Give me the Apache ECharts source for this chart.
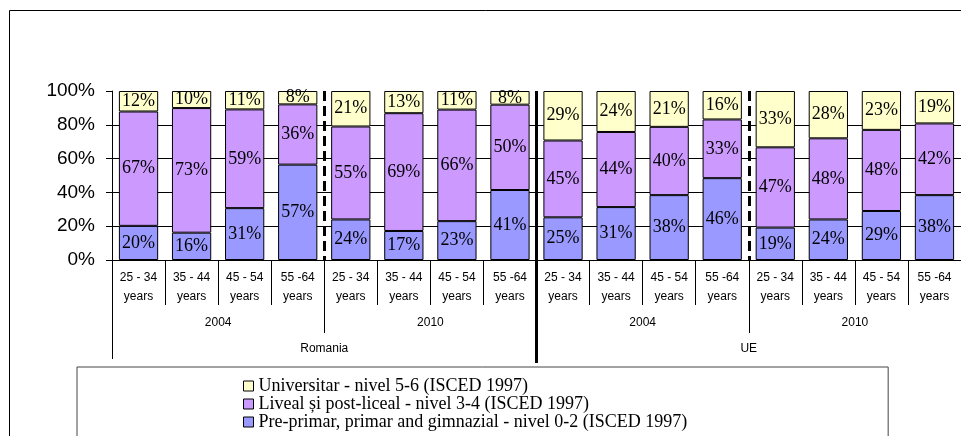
<!DOCTYPE html>
<html>
<head>
<meta charset="utf-8">
<script src="https://cdn.jsdelivr.net/npm/echarts@6/dist/echarts.min.js"></script>
<style>
html,body{margin:0;padding:0;background:#fff;}
#c{width:961px;height:436px;}
</style>
</head>
<body>
<div id="c"></div>
<script>
// ---- data ----
const ageGroups = ['25 - 34', '35 - 44', '45 - 54', '55 -64', '25 - 34', '35 - 44', '45 - 54', '55 -64',
                   '25 - 34', '35 - 44', '45 - 54', '55 -64', '25 - 34', '35 - 44', '45 - 54', '55 -64'];
const years = ['2004', '2010', '2004', '2010'];
const regions = ['Romania', 'UE'];
const seriesNames = [
  'Pre-primar, primar and gimnazial - nivel 0-2 (ISCED 1997)',
  'Liveal și post-liceal - nivel 3-4 (ISCED 1997)',
  'Universitar - nivel 5-6 (ISCED 1997)'
];
const prePrimar   = [20, 16, 31, 57, 24, 17, 23, 41, 25, 31, 38, 46, 19, 24, 29, 38];
const liceal      = [67, 73, 59, 36, 55, 69, 66, 50, 45, 44, 40, 33, 47, 48, 48, 42];
const universitar = [12, 10, 11, 8, 21, 13, 11, 8, 29, 24, 21, 16, 33, 28, 23, 19];
const yTicks = [0, 20, 40, 60, 80, 100];
const colors = ['#9999FF', '#CC99FF', '#FFFFCC'];
const regionBoundary = [[8, 0]]; // left edge of first UE category

// ---- build ----
const raw = [prePrimar, liceal, universitar];
const totals = prePrimar.map((v, i) => v + liceal[i] + universitar[i]);
const pct = raw.map(arr => arr.map((v, i) => v / totals[i] * 100));

const chart = echarts.init(document.getElementById('c'), null, {renderer: 'canvas'});

const barSeries = raw.map((arr, s) => ({
  name: seriesNames[s],
  type: 'bar',
  stack: 'total',
  xAxisIndex: 0,
  yAxisIndex: 0,
  barCategoryGap: '26%',
  data: pct[s],
  itemStyle: {color: colors[s], borderColor: '#000', borderWidth: 1},
  label: {
    show: true,
    position: 'inside',
    color: '#000',
    fontFamily: 'Liberation Serif',
    fontSize: 18,
    formatter: p => raw[p.seriesIndex][p.dataIndex] + '%'
  },
  emphasis: {disabled: true},
  animation: false
}));

chart.setOption({
  animation: false,
  backgroundColor: '#fff',
  graphic: [{
    type: 'rect',
    shape: {x: 9.5, y: 10.5, width: 1000, height: 500},
    style: {fill: 'none', stroke: '#000', lineWidth: 1},
    silent: true,
    z: -10
  }],
  grid: {left: 112, right: -1, top: 91, bottom: 176, containLabel: false},
  legend: {
    orient: 'vertical',
    left: 77,
    top: 367,
    height: 200,
    data: [seriesNames[2], seriesNames[1], seriesNames[0]],
    icon: 'rect',
    itemWidth: 10,
    itemHeight: 10,
    itemGap: 0,
    padding: [10, 201, 30, 166],
    borderColor: '#444',
    borderWidth: 1,
    itemStyle: {borderColor: '#000', borderWidth: 1},
    textStyle: {fontFamily: 'Liberation Serif', fontSize: 18, color: '#000', lineHeight: 18},
    selectedMode: false
  },
  xAxis: [
    {
      type: 'category',
      position: 'bottom',
      data: ageGroups,
      axisLine: {show: true, lineStyle: {color: '#000', width: 1}},
      axisTick: {show: true, length: 45, interval: 0, lineStyle: {color: '#000', width: 1}},
      axisLabel: {
        interval: 0, margin: 8,
        fontFamily: 'Liberation Sans', fontSize: 12, color: '#000', lineHeight: 19,
        formatter: v => v + '\nyears'
      },
      splitLine: {show: false}
    },
    {
      type: 'category',
      position: 'bottom',
      data: years,
      axisLine: {show: false},
      axisTick: {show: true, length: 73, interval: 0, lineStyle: {color: '#000', width: 1}},
      axisLabel: {interval: 0, margin: 57, fontFamily: 'Liberation Sans', fontSize: 12, color: '#000'},
      splitLine: {show: true, interval: 0, lineStyle: {color: ['rgba(0,0,0,0)', '#000'], width: 3, type: [10, 5]}}
    },
    {
      type: 'category',
      position: 'bottom',
      data: regions,
      axisLine: {show: false},
      axisTick: {show: true, length: 99, interval: 0, lineStyle: {color: '#000', width: 1}},
      axisLabel: {interval: 0, margin: 83, fontFamily: 'Liberation Sans', fontSize: 12, color: '#000'},
      splitLine: {show: false}
    }
  ],
  yAxis: {
    type: 'value',
    min: yTicks[0],
    max: yTicks[yTicks.length - 1],
    interval: yTicks[1] - yTicks[0],
    axisLine: {show: true, lineStyle: {color: '#000', width: 1}},
    axisTick: {show: true, length: 6, lineStyle: {color: '#000'}},
    axisLabel: {margin: 17, fontFamily: 'Liberation Sans', fontSize: 19, color: '#000', formatter: '{value}%'},
    splitLine: {show: true, showMaxLine: false, lineStyle: {color: '#000', width: 1}}
  },
  series: barSeries.concat([{
    type: 'custom',
    xAxisIndex: 0,
    yAxisIndex: 0,
    clip: false,
    silent: true,
    z: 10,
    data: regionBoundary,
    renderItem: (params, api) => {
      const bw = api.size([1, 0])[0];
      const top = api.coord([api.value(0), 100]);
      const bot = api.coord([api.value(0), 0]);
      const x = top[0] - bw / 2;
      return {
        type: 'line',
        shape: {x1: x, y1: top[1], x2: x, y2: bot[1] + 103},
        style: {stroke: '#000', lineWidth: 3}
      };
    }
  }])
});
</script>
</body>
</html>
